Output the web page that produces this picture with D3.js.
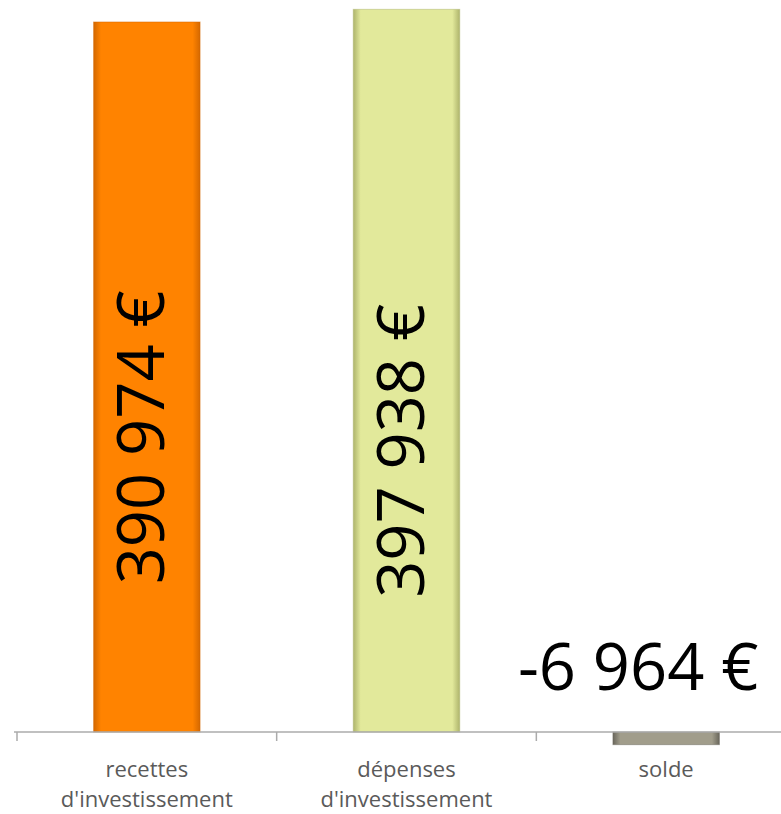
<!DOCTYPE html>
<html lang="fr">
<head>
  <meta charset="utf-8">
  <style>
    body {
      margin: 0;
      padding: 0;
      background: #fff;
    }
  </style>
</head>
<body>
  <svg width="781" height="814"></svg>
  <script src="https://d3js.org/d3.v7.min.js"></script>
  <script>
    // chart data
    var categories = ["recettes|d'investissement", "dépenses|d'investissement", "solde"];
    var values = [390974, 397938, -6964];
    var valueLabels = ["390 974 €", "397 938 €", "-6 964 €"];

    var svg = d3.select("svg");

    var x = d3.scaleBand()
      .domain(categories)
      .range([17, 796])
      .paddingInner(0.59)
      .paddingOuter(0.295);

    var y = d3.scaleLinear()
      .domain([0, 400000])
      .range([732, 5.6]);

    // gradients (darker edges like the office 3D look)
    var defs = svg.append("defs");
    var grads = [
      { id: "g0", edge: "#d46800", mid: "#ff8300" },
      { id: "g1", edge: "#aeb46c", mid: "#e2e99b" },
      { id: "g2", edge: "#6a675c", mid: "#a19d8b" }
    ];
    grads.forEach(function(g) {
      var lg = defs.append("linearGradient").attr("id", g.id)
        .attr("x1", "0%").attr("x2", "100%").attr("y1", "0%").attr("y2", "0%");
      lg.append("stop").attr("offset", "0%").attr("stop-color", g.edge);
      lg.append("stop").attr("offset", "7%").attr("stop-color", g.mid);
      lg.append("stop").attr("offset", "93%").attr("stop-color", g.mid);
      lg.append("stop").attr("offset", "100%").attr("stop-color", g.edge);
    });

    // bars
    svg.append("g")
      .selectAll("rect")
      .data(values)
      .enter().append("rect")
      .attr("x", function(d, i) { return x(categories[i]); })
      .attr("width", x.bandwidth())
      .attr("y", function(d) { return y(Math.max(0, d)); })
      .attr("height", function(d) { return Math.abs(y(d) - y(0)); })
      .attr("fill", function(d, i) { return "url(#g" + i + ")"; })
      .attr("stroke", function(d, i) { return grads[i].edge; })
      .attr("stroke-opacity", 0.5)
      .attr("stroke-width", 1);

    // axis line + ticks at category boundaries
    var axis = svg.append("g").attr("stroke", "#ababab");
    axis.append("line")
      .attr("x1", 14).attr("x2", 781)
      .attr("y1", y(0)).attr("y2", y(0))
      .attr("stroke-width", 1.5);
    axis.selectAll(".tick")
      .data(categories)
      .enter().append("line")
      .attr("class", "tick")
      .attr("x1", function(d) { return x(d) - x.step() * x.paddingInner() / 2; })
      .attr("x2", function(d) { return x(d) - x.step() * x.paddingInner() / 2; })
      .attr("y1", y(0)).attr("y2", y(0) + 9)
      .attr("stroke-width", 1.5);

    // category labels
    var lab = svg.append("g")
      .attr("font-family", "'Open Sans', sans-serif")
      .attr("font-size", 22)
      .attr("fill", "#5a5a5a")
      .attr("text-anchor", "middle");
    lab.selectAll("text")
      .data(categories)
      .enter().append("text")
      .attr("x", function(d) { return x(d) + x.bandwidth() / 2; })
      .attr("y", 777)
      .each(function(d) {
        var t = d3.select(this);
        d.split("|").forEach(function(s, k) {
          t.append("tspan")
            .attr("x", x(d) + x.bandwidth() / 2)
            .attr("dy", k ? 30 : 0)
            .text(s);
        });
      });

    // value labels: vertical inside the positive bars, horizontal above solde
    var vl = svg.append("g")
      .attr("font-family", "'Open Sans', sans-serif")
      .attr("fill", "#000");
    vl.selectAll("text.rot")
      .data([0, 1])
      .enter().append("text")
      .attr("class", "rot")
      .attr("font-size", 65)
      .attr("text-anchor", "middle")
      .attr("transform", function(i) {
        var cx = x(categories[i]) + x.bandwidth() / 2 + 17;
        var cy = y(values[i] * (i ? 0.389 : 0.415));
        return "translate(" + cx + "," + cy + ") rotate(-90)";
      })
      .text(function(i) { return valueLabels[i]; });

    vl.append("text")
      .attr("font-size", 65)
      .attr("text-anchor", "middle")
      .attr("x", x(categories[2]) + x.bandwidth() / 2 - 28)
      .attr("y", y(0) - 42)
      .text(valueLabels[2]);
  </script>
</body>
</html>
